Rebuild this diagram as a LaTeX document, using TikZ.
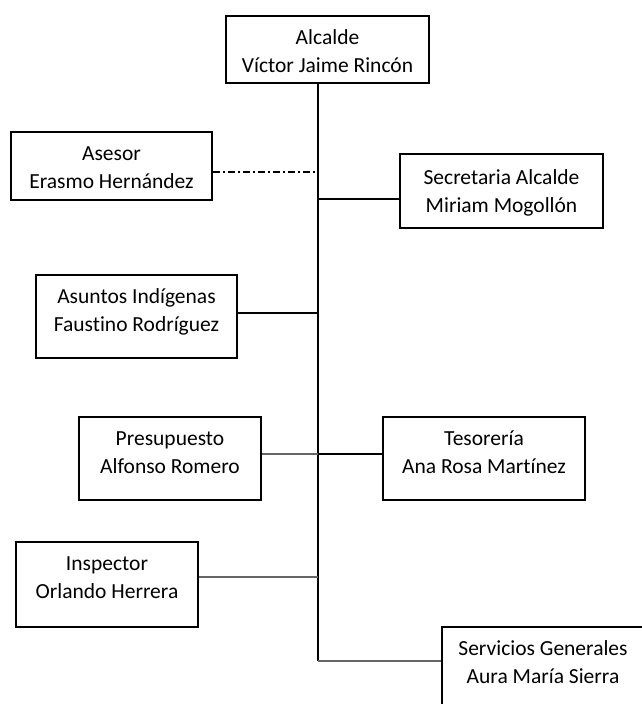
\documentclass[tikz,border=0pt]{standalone}
\usepackage{fontspec}
\setmainfont{Carlito}[Ligatures=NoCommon]
\usepackage{tikz}
\usetikzlibrary{positioning}
\tikzset{
% Boxes and lines of the chart
office/.style={rectangle, draw=black, line width=1.2pt, align=center,
  font=\fontsize{21.5}{28.5}\selectfont, inner sep=0, text height=56.5pt},
trunk/.style={draw=black, line width=1.2pt},
greyline/.style={draw=black!60, line width=1.8pt},
advice/.style={draw=black, line width=1.2pt, dash pattern=on 7pt off 3pt on 2pt off 3pt}
}

\begin{document}
\begin{tikzpicture}[x=1pt, y=-1pt]
  \useasboundingbox (0,0) rectangle (642,704);

  \node[office, minimum width=203, text depth=10.5pt] (alcalde) at (327.5, 49.5)
    {Alcalde\\Víctor Jaime Rincón};
  \node[office, minimum width=201, text depth=11.5pt] (asesor) at (111.5, 166)
    {Asesor\\Erasmo Hernández};
  \node[office, minimum width=203, text depth=15.5pt, text height=58.5pt] (secretaria) at (501.5, 191)
    {Secretaria Alcalde\\Miriam Mogollón};
  \node[office, minimum width=201, text depth=26.5pt] (asuntos) at (136.5, 316.5)
    {Asuntos Indígenas\\Faustino Rodríguez};
  \node[office, minimum width=182, text depth=26.5pt] (presupuesto) at (170, 458.5)
    {Presupuesto\\Alfonso Romero};
  \node[office, minimum width=202, text depth=26.5pt] (tesoreria) at (484, 458.5)
    {Tesorería\\Ana Rosa Martínez};
  \node[office, minimum width=182, text depth=28.5pt] (inspector) at (107, 584.5)
    {Inspector\\Orlando Herrera};
  \node[office, minimum width=202, text depth=26.5pt] (servicios) at (543, 668.5)
    {Servicios Generales\\Aura María Sierra};

  % points on the main line
  \coordinate (j-asesor) at (318, 172);
  \coordinate (j-secretaria) at (318, 199);
  \coordinate (j-asuntos) at (318, 313);
  \coordinate (j-presupuesto) at (318, 454);
  \coordinate (j-inspector) at (318, 577);
  \coordinate (j-servicios) at (318, 661);

  \draw[trunk] (alcalde.south -| j-servicios) -- (j-servicios);
  \draw[advice] (asesor.east |- j-asesor) -- (j-asesor);
  \draw[trunk] (j-secretaria) -- (secretaria.west |- j-secretaria);
  \draw[trunk] (asuntos.east |- j-asuntos) -- (j-asuntos);
  \draw[greyline] (presupuesto.east |- j-presupuesto) -- (j-presupuesto);
  \draw[trunk] (j-presupuesto) -- (tesoreria.west |- j-presupuesto);
  \draw[greyline] (inspector.east |- j-inspector) -- (j-inspector);
  \draw[greyline] (j-servicios) -- (servicios.west |- j-servicios);
\end{tikzpicture}
\end{document}
